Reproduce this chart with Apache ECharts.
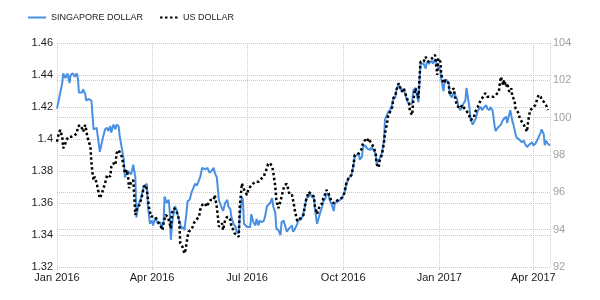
<!DOCTYPE html>
<html>
<head>
<meta charset="utf-8">
<script src="https://cdn.jsdelivr.net/npm/echarts@6/dist/echarts.min.js"></script>
<style>
html,body{margin:0;padding:0;background:#fff;}
#chart{width:600px;height:300px;}
</style>
</head>
<body>
<div id="chart"></div>
<script>
const seriesNames = ['SINGAPORE DOLLAR', 'US DOLLAR'];
const monthNames = ['Jan','Feb','Mar','Apr','May','Jun','Jul','Aug','Sep','Oct','Nov','Dec'];

const sgdDates = ['2016-01-01','2016-01-06','2016-01-07','2016-01-09','2016-01-11','2016-01-13','2016-01-14','2016-01-16','2016-01-18','2016-01-20','2016-01-21','2016-01-22','2016-01-25','2016-01-26','2016-01-28','2016-01-29','2016-01-31','2016-02-03','2016-02-05','2016-02-06','2016-02-08','2016-02-10','2016-02-11','2016-02-13','2016-02-14','2016-02-16','2016-02-18','2016-02-19','2016-02-21','2016-02-22','2016-02-24','2016-02-26','2016-02-27','2016-02-29','2016-03-01','2016-03-05','2016-03-06','2016-03-09','2016-03-12','2016-03-14','2016-03-16','2016-03-17','2016-03-19','2016-03-21','2016-03-24','2016-03-27','2016-03-28','2016-03-30','2016-04-01','2016-04-02','2016-04-04','2016-04-05','2016-04-07','2016-04-09','2016-04-10','2016-04-12','2016-04-13','2016-04-15','2016-04-17','2016-04-18','2016-04-19','2016-04-20','2016-04-21','2016-04-23','2016-04-25','2016-04-26','2016-04-28','2016-04-29','2016-05-01','2016-05-02','2016-05-04','2016-05-05','2016-05-07','2016-05-09','2016-05-11','2016-05-12','2016-05-14','2016-05-15','2016-05-17','2016-05-19','2016-05-20','2016-05-22','2016-05-24','2016-05-26','2016-05-28','2016-05-30','2016-05-31','2016-06-02','2016-06-04','2016-06-05','2016-06-08','2016-06-10','2016-06-12','2016-06-13','2016-06-15','2016-06-16','2016-06-18','2016-06-20','2016-06-21','2016-06-23','2016-06-24','2016-06-26','2016-06-27','2016-06-28','2016-07-01','2016-07-02','2016-07-04','2016-07-05','2016-07-07','2016-07-09','2016-07-10','2016-07-12','2016-07-13','2016-07-15','2016-07-17','2016-07-18','2016-07-20','2016-07-21','2016-07-23','2016-07-25','2016-07-26','2016-07-28','2016-07-29','2016-07-31','2016-08-02','2016-08-03','2016-08-05','2016-08-08','2016-08-10','2016-08-11','2016-08-13','2016-08-14','2016-08-16','2016-08-18','2016-08-19','2016-08-22','2016-08-24','2016-08-26','2016-08-27','2016-08-29','2016-08-30','2016-09-01','2016-09-03','2016-09-04','2016-09-06','2016-09-07','2016-09-09','2016-09-11','2016-09-12','2016-09-14','2016-09-15','2016-09-17','2016-09-18','2016-09-20','2016-09-22','2016-09-23','2016-09-26','2016-09-30','2016-10-01','2016-10-03','2016-10-04','2016-10-06','2016-10-09','2016-10-11','2016-10-12','2016-10-14','2016-10-16','2016-10-17','2016-10-19','2016-10-20','2016-10-22','2016-10-24','2016-10-25','2016-10-27','2016-10-28','2016-10-30','2016-11-01','2016-11-02','2016-11-04','2016-11-05','2016-11-07','2016-11-09','2016-11-10','2016-11-12','2016-11-13','2016-11-15','2016-11-17','2016-11-18','2016-11-20','2016-11-21','2016-11-23','2016-11-25','2016-11-26','2016-11-28','2016-11-29','2016-12-01','2016-12-03','2016-12-04','2016-12-06','2016-12-07','2016-12-09','2016-12-11','2016-12-12','2016-12-14','2016-12-15','2016-12-17','2016-12-19','2016-12-20','2016-12-22','2016-12-23','2016-12-25','2016-12-26','2016-12-28','2016-12-30','2016-12-31','2017-01-02','2017-01-03','2017-01-05','2017-01-06','2017-01-08','2017-01-10','2017-01-11','2017-01-13','2017-01-15','2017-01-16','2017-01-18','2017-01-19','2017-01-21','2017-01-23','2017-01-24','2017-01-26','2017-01-27','2017-01-28','2017-01-30','2017-01-31','2017-02-02','2017-02-03','2017-02-05','2017-02-07','2017-02-08','2017-02-10','2017-02-11','2017-02-13','2017-02-15','2017-02-16','2017-02-18','2017-02-19','2017-02-21','2017-02-23','2017-02-24','2017-02-26','2017-02-27','2017-03-01','2017-03-03','2017-03-04','2017-03-06','2017-03-07','2017-03-08','2017-03-10','2017-03-12','2017-03-13','2017-03-15','2017-03-16','2017-03-18','2017-03-19','2017-03-21','2017-03-23','2017-03-24','2017-03-26','2017-03-27','2017-03-29','2017-03-31','2017-04-01','2017-04-03','2017-04-04','2017-04-06','2017-04-08','2017-04-09','2017-04-11','2017-04-12','2017-04-13','2017-04-15','2017-04-17'];
const sgdValues = [1.419,1.435,1.441,1.438,1.441,1.435,1.440,1.441,1.439,1.441,1.438,1.429,1.429,1.431,1.428,1.424,1.425,1.424,1.406,1.407,1.407,1.397,1.392,1.398,1.401,1.406,1.407,1.405,1.408,1.404,1.409,1.406,1.409,1.408,1.402,1.387,1.376,1.380,1.378,1.384,1.376,1.351,1.359,1.362,1.370,1.372,1.358,1.347,1.349,1.346,1.351,1.349,1.347,1.348,1.344,1.348,1.364,1.360,1.362,1.354,1.337,1.345,1.351,1.358,1.355,1.351,1.347,1.344,1.345,1.343,1.354,1.361,1.362,1.367,1.370,1.372,1.371,1.371,1.376,1.382,1.383,1.381,1.382,1.379,1.380,1.382,1.379,1.376,1.362,1.360,1.355,1.360,1.362,1.358,1.356,1.351,1.347,1.345,1.342,1.341,1.351,1.364,1.362,1.347,1.345,1.346,1.345,1.353,1.348,1.346,1.350,1.346,1.349,1.348,1.349,1.351,1.358,1.359,1.360,1.363,1.358,1.354,1.344,1.343,1.340,1.348,1.349,1.342,1.344,1.345,1.346,1.342,1.344,1.347,1.349,1.350,1.354,1.360,1.363,1.364,1.366,1.364,1.363,1.356,1.347,1.348,1.354,1.358,1.361,1.363,1.366,1.365,1.362,1.359,1.355,1.360,1.361,1.363,1.364,1.368,1.372,1.375,1.378,1.384,1.389,1.390,1.391,1.387,1.389,1.395,1.396,1.394,1.395,1.393,1.395,1.393,1.391,1.385,1.386,1.388,1.391,1.399,1.412,1.415,1.417,1.418,1.422,1.425,1.426,1.431,1.434,1.431,1.430,1.431,1.429,1.424,1.422,1.421,1.422,1.430,1.432,1.426,1.423,1.447,1.448,1.447,1.444,1.448,1.447,1.448,1.449,1.447,1.450,1.446,1.447,1.443,1.437,1.430,1.435,1.437,1.435,1.428,1.426,1.429,1.430,1.425,1.421,1.418,1.420,1.422,1.424,1.432,1.428,1.419,1.412,1.409,1.408,1.413,1.418,1.419,1.420,1.418,1.420,1.421,1.419,1.418,1.420,1.418,1.408,1.405,1.407,1.406,1.409,1.412,1.411,1.414,1.410,1.413,1.418,1.411,1.409,1.403,1.401,1.400,1.399,1.398,1.399,1.397,1.395,1.396,1.397,1.398,1.396,1.397,1.398,1.401,1.404,1.406,1.403,1.396,1.399,1.397,1.396];

const usdDates = ['2016-01-01','2016-01-02','2016-01-04','2016-01-05','2016-01-06','2016-01-07','2016-01-09','2016-01-10','2016-01-12','2016-01-13','2016-01-15','2016-01-17','2016-01-18','2016-01-20','2016-01-21','2016-01-23','2016-01-25','2016-01-26','2016-01-28','2016-01-29','2016-01-30','2016-01-31','2016-02-02','2016-02-03','2016-02-04','2016-02-05','2016-02-06','2016-02-08','2016-02-10','2016-02-11','2016-02-13','2016-02-14','2016-02-16','2016-02-18','2016-02-19','2016-02-21','2016-02-22','2016-02-24','2016-02-26','2016-02-27','2016-02-29','2016-03-01','2016-03-03','2016-03-05','2016-03-06','2016-03-08','2016-03-09','2016-03-10','2016-03-12','2016-03-14','2016-03-15','2016-03-16','2016-03-18','2016-03-20','2016-03-21','2016-03-23','2016-03-24','2016-03-26','2016-03-27','2016-03-29','2016-03-31','2016-04-01','2016-04-03','2016-04-05','2016-04-06','2016-04-08','2016-04-09','2016-04-11','2016-04-12','2016-04-14','2016-04-16','2016-04-17','2016-04-19','2016-04-20','2016-04-22','2016-04-24','2016-04-25','2016-04-27','2016-04-28','2016-04-30','2016-05-02','2016-05-03','2016-05-05','2016-05-06','2016-05-08','2016-05-10','2016-05-11','2016-05-13','2016-05-14','2016-05-16','2016-05-17','2016-05-19','2016-05-22','2016-05-23','2016-05-25','2016-05-27','2016-05-28','2016-05-30','2016-05-31','2016-06-02','2016-06-03','2016-06-04','2016-06-05','2016-06-07','2016-06-08','2016-06-10','2016-06-12','2016-06-13','2016-06-15','2016-06-16','2016-06-18','2016-06-19','2016-06-21','2016-06-23','2016-06-24','2016-06-26','2016-06-27','2016-06-29','2016-07-01','2016-07-02','2016-07-04','2016-07-05','2016-07-07','2016-07-09','2016-07-10','2016-07-12','2016-07-13','2016-07-15','2016-07-17','2016-07-18','2016-07-20','2016-07-21','2016-07-23','2016-07-25','2016-07-26','2016-07-28','2016-07-29','2016-07-31','2016-08-02','2016-08-03','2016-08-05','2016-08-06','2016-08-08','2016-08-10','2016-08-11','2016-08-13','2016-08-14','2016-08-16','2016-08-18','2016-08-19','2016-08-21','2016-08-24','2016-08-26','2016-08-27','2016-08-29','2016-08-30','2016-09-01','2016-09-03','2016-09-04','2016-09-06','2016-09-07','2016-09-09','2016-09-11','2016-09-12','2016-09-14','2016-09-15','2016-09-17','2016-09-18','2016-09-20','2016-09-22','2016-09-23','2016-09-26','2016-09-30','2016-10-02','2016-10-04','2016-10-06','2016-10-09','2016-10-11','2016-10-12','2016-10-14','2016-10-16','2016-10-17','2016-10-19','2016-10-20','2016-10-22','2016-10-24','2016-10-25','2016-10-27','2016-10-28','2016-10-30','2016-11-01','2016-11-02','2016-11-04','2016-11-05','2016-11-07','2016-11-09','2016-11-10','2016-11-12','2016-11-13','2016-11-15','2016-11-17','2016-11-18','2016-11-20','2016-11-21','2016-11-23','2016-11-25','2016-11-26','2016-11-28','2016-11-29','2016-12-01','2016-12-03','2016-12-04','2016-12-06','2016-12-07','2016-12-09','2016-12-11','2016-12-12','2016-12-14','2016-12-15','2016-12-17','2016-12-19','2016-12-20','2016-12-22','2016-12-23','2016-12-25','2016-12-26','2016-12-28','2016-12-30','2016-12-31','2017-01-02','2017-01-03','2017-01-05','2017-01-07','2017-01-08','2017-01-10','2017-01-11','2017-01-13','2017-01-15','2017-01-16','2017-01-18','2017-01-19','2017-01-21','2017-01-23','2017-01-24','2017-01-26','2017-01-27','2017-01-29','2017-01-31','2017-02-01','2017-02-03','2017-02-04','2017-02-06','2017-02-08','2017-02-09','2017-02-11','2017-02-12','2017-02-14','2017-02-16','2017-02-17','2017-02-19','2017-02-20','2017-02-22','2017-02-24','2017-02-25','2017-02-27','2017-02-28','2017-03-01','2017-03-03','2017-03-04','2017-03-06','2017-03-07','2017-03-09','2017-03-11','2017-03-12','2017-03-14','2017-03-15','2017-03-16','2017-03-18','2017-03-19','2017-03-21','2017-03-23','2017-03-24','2017-03-26','2017-03-27','2017-03-29','2017-03-31','2017-04-01','2017-04-03','2017-04-04','2017-04-06','2017-04-08','2017-04-09','2017-04-11','2017-04-12','2017-04-14','2017-04-15'];
const usdValues = [98.71,98.98,99.34,99.43,98.98,98.36,98.63,98.80,98.98,99.02,98.98,99.02,99.07,99.16,99.52,99.61,99.43,99.25,99.61,99.34,98.98,98.80,98.44,97.56,97.02,96.66,96.84,96.48,95.95,95.68,95.95,96.03,96.48,96.93,97.02,96.84,97.37,97.56,97.46,98.09,98.27,98.36,97.91,97.37,97.02,97.20,96.84,96.22,96.57,96.66,95.77,94.79,95.23,95.32,95.41,95.95,96.30,96.39,96.13,95.23,94.70,94.61,94.70,94.61,94.43,94.34,94.25,93.98,94.34,94.79,94.70,94.52,94.07,94.88,95.15,95.05,94.88,94.52,93.27,93.09,92.73,92.91,93.62,93.89,93.98,94.16,94.34,94.52,94.61,94.68,95.05,95.32,95.41,95.23,95.41,95.59,95.50,95.59,95.86,95.21,94.70,94.16,94.07,94.34,93.98,94.52,94.70,94.79,94.52,94.16,93.98,93.81,93.71,93.62,95.23,96.48,96.30,96.03,95.86,96.13,96.30,96.39,96.48,96.57,96.48,96.57,96.66,96.75,96.84,97.02,97.29,97.52,97.56,97.37,97.11,96.30,95.59,95.15,95.54,95.77,96.22,96.39,96.45,96.03,95.86,95.86,95.59,94.95,94.46,94.52,94.61,94.79,95.50,95.68,96.03,96.13,95.86,95.77,95.23,94.84,95.05,95.32,95.41,95.68,95.95,96.13,95.95,95.77,95.50,95.41,95.50,95.59,95.72,95.95,96.48,96.75,96.93,97.52,98.00,98.05,98.09,98.00,98.36,98.67,98.80,98.71,98.89,98.71,98.63,98.44,98.11,97.52,97.33,97.73,98.00,98.63,99.16,99.70,100.14,100.32,100.59,101.04,101.21,101.48,101.84,101.57,101.39,101.57,101.48,101.04,100.77,100.32,100.14,100.86,101.57,101.31,101.04,103.00,103.09,103.00,103.27,103.09,103.00,103.09,103.18,103.27,103.36,102.29,103.18,103.00,102.29,101.84,102.02,101.93,101.84,101.21,101.48,101.57,101.12,100.63,100.73,100.50,100.68,100.59,100.41,100.50,100.23,99.88,99.78,99.97,100.23,100.50,100.68,100.86,101.04,101.12,101.31,101.12,101.04,101.12,101.21,101.12,101.21,101.31,101.39,101.84,102.19,101.75,102.02,101.66,101.84,101.39,101.57,101.12,100.95,100.50,100.41,100.23,99.97,99.78,99.61,99.70,99.25,99.78,100.41,100.50,100.59,100.68,100.86,101.21,101.12,100.95,100.86,100.77,100.59,100.41];

const xMin = '2016-01-01';
const xMax = '2017-04-17';

const chart = echarts.init(document.getElementById('chart'), null, {renderer: 'canvas'});
const font = 'Liberation Sans, Arial, sans-serif';
const gridLine = {show: true, lineStyle: {color: '#cccccc', type: 'dotted', width: 1}};

chart.setOption({
  animation: false,
  backgroundColor: '#ffffff',
  textStyle: {fontFamily: font},
  legend: {
    left: 22, top: 8,
    itemWidth: 18, itemHeight: 10, itemGap: 16,
    itemStyle: {opacity: 0},
    textStyle: {fontSize: 9, color: '#222', fontFamily: font},
    data: seriesNames
  },
  grid: {left: 57, right: 50, top: 43, bottom: 33, containLabel: false},
  xAxis: {
    type: 'time',
    min: xMin, max: xMax,
    splitNumber: 5,
    axisLine: {show: false},
    axisTick: {show: true, length: 3, lineStyle: {color: '#cccccc'}},
    splitLine: gridLine,
    axisLabel: {
      fontSize: 11, color: '#222', margin: 5, fontFamily: font,
      formatter: function (v) { const d = new Date(v); return monthNames[d.getMonth()] + ' ' + d.getFullYear(); }
    }
  },
  yAxis: [
    {
      type: 'value', min: 1.32, max: 1.46, interval: 0.02, position: 'left',
      axisLine: {show: false}, axisTick: {show: false},
      splitLine: gridLine,
      axisLabel: {fontSize: 11, color: '#222', margin: 4, fontFamily: font}
    },
    {
      type: 'value', min: 92, max: 104, interval: 2, position: 'right',
      axisLine: {show: false}, axisTick: {show: false},
      splitLine: gridLine,
      axisLabel: {fontSize: 11, color: '#a0a0a0', margin: 3, fontFamily: font}
    }
  ],
  series: [
    {
      name: seriesNames[0], type: 'line', yAxisIndex: 0,
      symbol: 'none', showSymbol: false,
      lineStyle: {color: '#4a90e2', width: 2},
      itemStyle: {color: '#4a90e2'},
      data: sgdDates.map((d, i) => [d, sgdValues[i]])
    },
    {
      name: seriesNames[1], type: 'line', yAxisIndex: 1,
      symbol: 'none', showSymbol: false,
      lineStyle: {color: '#000000', width: 2.5, type: [2.5, 2.5]},
      itemStyle: {color: '#000000'},
      data: usdDates.map((d, i) => [d, usdValues[i]])
    }
  ]
});
</script>
</body>
</html>
